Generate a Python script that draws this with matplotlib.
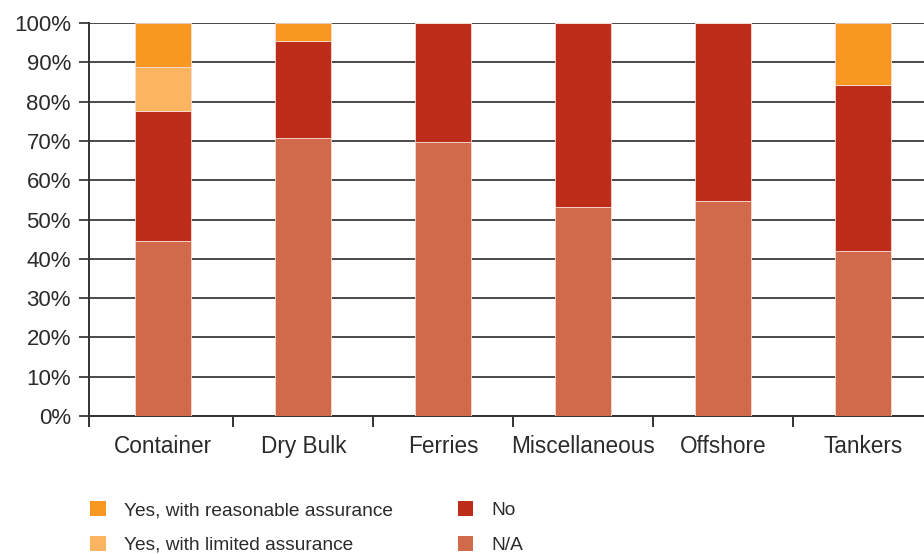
import numpy as np
import matplotlib.pyplot as plt
from matplotlib.patches import Patch
from matplotlib.ticker import FixedLocator, PercentFormatter

categories = ["Container", "Dry Bulk", "Ferries", "Miscellaneous", "Offshore", "Tankers"]
na_share = [44.5, 70.7, 69.8, 53.3, 54.6, 41.9]
no_share = [33.1, 24.7, 30.2, 46.7, 45.4, 42.2]
limited_share = [11.3, 0.0, 0.0, 0.0, 0.0, 0.0]
reasonable_share = [11.1, 4.6, 0.0, 0.0, 0.0, 15.9]

col_reasonable = "#F89721"
col_limited = "#FBB45F"
col_no = "#BE2D19"
col_na = "#D06A4A"

plt.rcParams["font.family"] = ["Liberation Sans", "DejaVu Sans"]
text_col = "#2b2b2b"

fig = plt.figure(figsize=(9.24, 5.54), dpi=100)
ax = fig.add_axes([89 / 924, 138 / 554, 843 / 924, 393 / 554])

x = np.arange(len(categories))
width = 0.40
bar_kw = dict(width=width, edgecolor="#f6dcd6", linewidth=0.6, zorder=3)

bottom = np.zeros(len(categories))
for vals, col in [(na_share, col_na), (no_share, col_no),
                  (limited_share, col_limited), (reasonable_share, col_reasonable)]:
    vals = np.array(vals)
    ax.bar(x, vals, bottom=bottom, color=col, **bar_kw)
    bottom += vals

x_left, x_right = -0.53, 5.49
ax.set_xlim(x_left, x_right)
ax.set_ylim(0, 100)

# y axis: gridlines every 10 %, ticks pointing left
ax.set_yticks(np.arange(0, 101, 10))
ax.yaxis.set_major_formatter(PercentFormatter(decimals=0))
ax.grid(axis="y", color="#4a4a4a", linewidth=1.4, zorder=1)
ax.tick_params(axis="y", length=7, width=1.4, color="#4a4a4a",
               labelsize=16, labelcolor=text_col, pad=6)

# x axis: category names centred, tick marks on the boundaries
ax.set_xticks(x)
ax.set_xticklabels(categories)
ax.tick_params(axis="x", which="major", length=0, labelsize=16.3,
               labelcolor=text_col, pad=14)
boundaries = [x_left] + list(np.arange(0.5, 5.0, 1.0))
ax.xaxis.set_minor_locator(FixedLocator(boundaries))
ax.tick_params(axis="x", which="minor", length=8, width=1.4, color="#333333")

for side in ["top", "right"]:
    ax.spines[side].set_visible(False)
for side in ["left", "bottom"]:
    ax.spines[side].set_color("#333333")
    ax.spines[side].set_linewidth(1.4)

handles = [
    Patch(facecolor=col_reasonable, label="Yes, with reasonable assurance"),
    Patch(facecolor=col_limited, label="Yes, with limited assurance"),
    Patch(facecolor=col_no, label="No"),
    Patch(facecolor=col_na, label="N/A"),
]
fig.legend(handles=handles, ncol=2, loc="upper left",
           bbox_to_anchor=(73 / 924, 1 - 484 / 554), frameon=False,
           fontsize=13.8, labelcolor=text_col, handlelength=0.83, handleheight=0.83,
           handletextpad=0.95, columnspacing=3.35, labelspacing=0.85)

fig.savefig("out.png", dpi=100)
